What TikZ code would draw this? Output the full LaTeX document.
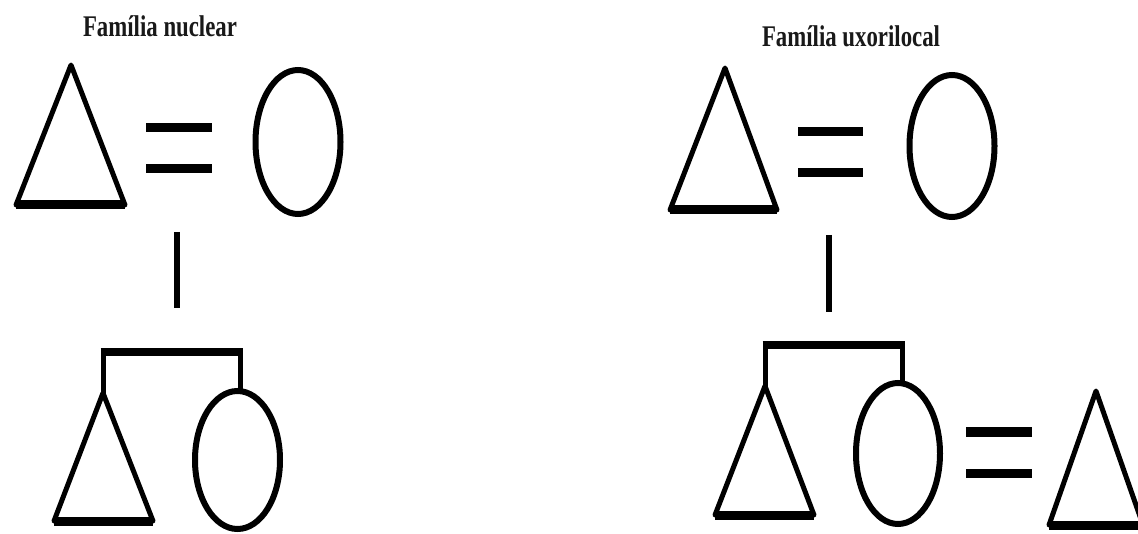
\documentclass[tikz,border=0pt]{standalone}
\usepackage{fontspec}
\setmainfont{Liberation Serif}
\usetikzlibrary{shapes.geometric}
\tikzset{
  tri/.style={draw=black, line width=5pt, line join=round},
  triBase/.style={draw=black, line width=9pt, line cap=butt},
  wom/.style={draw=black, ellipse, line width=6pt, inner sep=0pt, outer sep=0pt},
  eqbar/.style={draw=black, line width=9pt, line cap=butt},
  descent/.style={draw=black, line width=6pt, line cap=butt},
  sibbar/.style={draw=black, line width=8pt, line cap=butt},
  sibdrop/.style={draw=black, line width=5pt, line cap=butt},
  title/.style={anchor=base, inner sep=0pt, font=\fontsize{30}{30}\selectfont\bfseries, text=black!90}
}
\begin{document}
\begin{tikzpicture}[x=1pt,y=-1pt]
\useasboundingbox (0,0) rectangle (1138,534);
\fill[white] (0,0) rectangle (1138,534);
\clip (0,0) rectangle (1138,534);

% ---------------- Left: Familia nuclear ----------------
\node[title] (tl) at (160,37) {\scalebox{0.76}[1]{Família nuclear}};

% husband
\coordinate (t1a) at (71,65);
\coordinate (t1l) at (16,205);
\coordinate (t1r) at (125,205);
\draw[tri] (t1a) -- (t1r) -- (t1l) -- cycle;
\draw[triBase] (t1l) -- (t1r);
% wife
\node[wom, minimum width=85pt, minimum height=144pt] (w1) at (298,142) {};
% marriage
\coordinate (e1a) at (146,128); \coordinate (e1b) at (212,128);
\coordinate (e1c) at (146,169); \coordinate (e1d) at (212,169);
\draw[eqbar] (e1a) -- (e1b);
\draw[eqbar] (e1c) -- (e1d);
% descent
\coordinate (d1a) at (177,232); \coordinate (d1b) at (177,308);
\draw[descent] (d1a) -- (d1b);
% children
\coordinate (t2a) at (103,393);
\coordinate (t2l) at (54,521);
\coordinate (t2r) at (153,521);
\draw[tri] (t2a) -- (t2r) -- (t2l) -- cycle;
\draw[triBase] (t2l) -- (t2r);
\node[wom, minimum width=85pt, minimum height=138pt] (w2) at (237.5,460) {};
% sibling bracket
\coordinate (s1l) at (103,352); \coordinate (s1r) at (240,352);
\draw[sibbar] ([xshift=-2.5pt]s1l) -- ([xshift=2.5pt]s1r);
\draw[sibdrop] (s1l) -- (t2a);
\draw[sibdrop] (s1r) -- (s1r |- w2.north);

% ---------------- Right: Familia uxorilocal ----------------
\node[title] (tr) at (851,47) {\scalebox{0.76}[1]{Família uxorilocal}};

\coordinate (t3a) at (725,68);
\coordinate (t3l) at (670,210);
\coordinate (t3r) at (777,210);
\draw[tri] (t3a) -- (t3r) -- (t3l) -- cycle;
\draw[triBase] (t3l) -- (t3r);
\node[wom, minimum width=85pt, minimum height=142pt] (w3) at (952,146) {};
\coordinate (e2a) at (798,132); \coordinate (e2b) at (863,132);
\coordinate (e2c) at (798,173); \coordinate (e2d) at (863,173);
\draw[eqbar] (e2a) -- (e2b);
\draw[eqbar] (e2c) -- (e2d);
\coordinate (d2a) at (829,235); \coordinate (d2b) at (829,312);
\draw[descent] (d2a) -- (d2b);

\coordinate (t4a) at (765,386);
\coordinate (t4l) at (715,515);
\coordinate (t4r) at (814,515);
\draw[tri] (t4a) -- (t4r) -- (t4l) -- cycle;
\draw[triBase] (t4l) -- (t4r);
\node[wom, minimum width=84pt, minimum height=141pt] (w4) at (898,453.5) {};
\coordinate (s2l) at (765,345); \coordinate (s2r) at (902,345);
\draw[sibbar] ([xshift=-2.5pt]s2l) -- ([xshift=2.5pt]s2r);
\draw[sibdrop] (s2l) -- (t4a);
\draw[sibdrop] (s2r) -- (s2r |- w4.north);

% daughter's husband
\coordinate (e3a) at (966,432); \coordinate (e3b) at (1032,432);
\coordinate (e3c) at (966,473); \coordinate (e3d) at (1032,473);
\draw[eqbar] (e3a) -- (e3b);
\draw[eqbar] (e3c) -- (e3d);
\coordinate (t5a) at (1096,391);
\coordinate (t5l) at (1049,525);
\coordinate (t5r) at (1143,525);
\draw[tri] (t5a) -- (t5r) -- (t5l) -- cycle;
\draw[triBase] (t5l) -- (t5r);
\end{tikzpicture}
\end{document}
